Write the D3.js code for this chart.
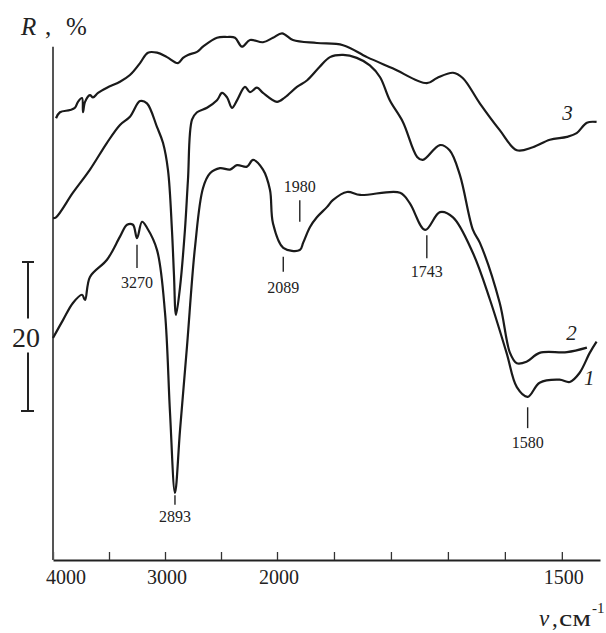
<!DOCTYPE html>
<html><head><meta charset="utf-8">
<script src="https://cdn.jsdelivr.net/npm/d3@7"></script>
<style>body{margin:0;background:#fff}svg{display:block}</style>
</head><body>
<svg id="c" width="606" height="633"></svg>
<script>
// Spectrum 1 (bottom), [wavenumber cm^-1, R %]
const curve1 = [[4000,29.8],[3911,32.2],[3822,34.5],[3741,35.6],[3714,34.9],[3670,38.0],[3518,40.3],[3402,43.4],[3339,45.0],[3286,45.0],[3250,43.2],[3205,45.4],[3161,44.6],[3071,41.6],[3000,33.2],[2955,19.7],[2911,9.0],[2866,17.4],[2804,28.6],[2732,42.0],[2661,49.9],[2598,51.9],[2509,52.6],[2420,52.4],[2357,53.0],[2268,52.8],[2214,53.7],[2125,52.4],[2063,49.7],[2036,45.2],[1989,41.9],[1960,41.6],[1954,42.6],[1942,44.7],[1930,46.0],[1912,47.4],[1902,48.3],[1877,49.4],[1854,49.0],[1784,49.3],[1767,47.9],[1740,44.3],[1714,46.7],[1691,46.0],[1656,41.2],[1626,34.9],[1597,27.8],[1579,23.2],[1560,21.9],[1539,23.8],[1504,24.2],[1486,23.9],[1469,25.1],[1451,27.8],[1439,29.3]];
// Spectrum 2 (middle)
const curve2 = [[4000,45.9],[3973,46.0],[3822,49.3],[3670,52.4],[3518,56.0],[3402,58.4],[3313,59.5],[3223,61.6],[3161,61.3],[3071,58.1],[3018,56.0],[2973,52.3],[2938,44.3],[2920,38.3],[2902,32.9],[2866,36.6],[2822,44.3],[2795,51.0],[2759,59.1],[2714,60.1],[2625,60.7],[2536,61.7],[2491,62.7],[2446,62.1],[2402,60.7],[2357,61.7],[2286,63.5],[2241,62.8],[2179,63.4],[2125,62.7],[2000,61.5],[1986,62.1],[1965,63.5],[1947,64.4],[1925,66.2],[1907,67.5],[1884,67.8],[1860,67.4],[1837,66.4],[1819,64.8],[1802,61.7],[1779,58.8],[1754,54.1],[1744,53.7],[1714,55.7],[1697,55.0],[1679,51.7],[1656,44.3],[1644,42.6],[1609,34.5],[1591,27.8],[1579,26.4],[1562,26.6],[1539,27.8],[1491,27.9],[1456,28.5]];
// Spectrum 3 (top)
const curve3 = [[3973,59.3],[3938,60.1],[3848,60.4],[3804,60.7],[3777,61.5],[3741,62.0],[3732,60.1],[3714,61.5],[3670,62.4],[3643,62.1],[3598,62.7],[3518,63.4],[3402,64.2],[3313,65.1],[3223,66.7],[3152,68.1],[3071,68.1],[2982,67.5],[2884,66.7],[2839,67.4],[2795,67.8],[2714,68.2],[2661,68.9],[2536,70.1],[2446,70.2],[2375,70.1],[2313,68.9],[2241,69.8],[2125,69.5],[2036,70.1],[1991,70.7],[1972,69.8],[1930,69.4],[1884,69.1],[1842,67.5],[1797,66.0],[1737,64.0],[1719,64.7],[1691,65.4],[1674,64.7],[1644,61.3],[1609,57.7],[1579,55.0],[1551,55.4],[1521,56.4],[1491,56.8],[1474,57.3],[1456,58.7],[1439,58.8]];

const xTicks = [4000,3500,3000,2500,2000,1900,1800,1700,1600,1500];
const xTickLabels = [4000,3000,2000,1500];
const peakLabels = ["3270","2893","2089","1980","1743","1580"];
const peakNu = [3250,2911,1989,1960,1737,1560];
const peakTickR = [[42.3,39.2],[8.7,7.4],[40.7,38.7],[48.3,45.4],[43.6,40.5],[20.5,17.7]];
const peakTextR = [36.5,5.1,35.8,49.4,38.0,15.0];
const curveNames = ["1","2","3"];
const curveNameNu = [1452,1483,1490];
const curveNameR = [23.5,29.5,59.1];
const scaleBar = [20,40];
const scaleBarLabel = "20";
const yAxisTop = 68.9;

const FONT = '"Liberation Serif","Times New Roman",serif';
const svg = d3.select("#c");
const x = d3.scaleLinear().domain([4000,2000,1433]).range([53,277,600]);
const y = d3.scaleLinear().domain([0,75]).range([560,1.25]);

// x axis
const gx = svg.append("g").attr("transform",`translate(0,${y(0)})`)
  .call(d3.axisBottom(x).tickValues(xTicks).tickSize(-8).tickSizeOuter(0).tickFormat(""));
gx.select(".domain").attr("stroke","#222").attr("stroke-width",2);
gx.selectAll(".tick line").attr("stroke","#333").attr("stroke-width",1.3);

svg.selectAll("text.xl").data(xTickLabels).join("text")
  .attr("class","xl")
  .attr("x",(d,i)=> i===0 ? x(d)-7 : x(d)+2)
  .attr("y",y(0)+24)
  .attr("text-anchor",(d,i)=> i===0 ? "start":"middle")
  .attr("font-family",FONT).attr("font-size",20).attr("fill","#222")
  .text(d=>d);

// y axis line
svg.append("line").attr("x1",x(4000)).attr("x2",x(4000))
  .attr("y1",y(0)).attr("y2",y(yAxisTop))
  .attr("stroke","#555").attr("stroke-width",2);

// curves
const line = d3.line().x(d=>x(d[0])).y(d=>y(d[1])).curve(d3.curveCatmullRom.alpha(0.5));
svg.selectAll("path.sp").data([curve1,curve2,curve3]).join("path")
  .attr("class","sp").attr("d",line)
  .attr("fill","none").attr("stroke","#1a1a1a").attr("stroke-width",2.2)
  .attr("stroke-linejoin","round");

// peak markers
svg.selectAll("line.pk").data(peakNu).join("line")
  .attr("class","pk")
  .attr("x1",d=>x(d)).attr("x2",d=>x(d))
  .attr("y1",(d,i)=>y(peakTickR[i][0])).attr("y2",(d,i)=>y(peakTickR[i][1]))
  .attr("stroke","#222").attr("stroke-width",1.4);
svg.selectAll("text.pk").data(peakLabels).join("text")
  .attr("class","pk")
  .attr("x",(d,i)=>x(peakNu[i])).attr("y",(d,i)=>y(peakTextR[i]))
  .attr("text-anchor","middle")
  .attr("font-family",FONT).attr("font-size",16).attr("fill","#222")
  .text(d=>d);

// curve numbers
svg.selectAll("text.cn").data(curveNames).join("text")
  .attr("class","cn")
  .attr("x",(d,i)=>x(curveNameNu[i])).attr("y",(d,i)=>y(curveNameR[i]))
  .attr("text-anchor","middle")
  .attr("font-family",FONT).attr("font-style","italic").attr("font-size",21).attr("fill","#222")
  .text(d=>d);

// scale bar
const bx = 28;
const bTop = y(scaleBar[1]), bBot = y(scaleBar[0]);
const bMid = (bTop+bBot)/2;
const sb = svg.append("g").attr("stroke","#222").attr("stroke-width",2);
sb.append("line").attr("x1",bx).attr("x2",bx).attr("y1",bTop).attr("y2",bMid-18);
sb.append("line").attr("x1",bx).attr("x2",bx).attr("y1",bMid+16).attr("y2",bBot);
sb.append("line").attr("x1",bx-6).attr("x2",bx+6).attr("y1",bTop).attr("y2",bTop);
sb.append("line").attr("x1",bx-7).attr("x2",bx+6).attr("y1",bBot).attr("y2",bBot);
svg.append("text").attr("x",bx-2).attr("y",bMid+10).attr("text-anchor","middle")
  .attr("font-family",FONT).attr("font-size",28).attr("fill","#222").text(scaleBarLabel);

// y title
const yt = svg.append("g").attr("font-family",FONT).attr("font-size",25).attr("fill","#222");
yt.append("text").attr("x",21).attr("y",35).attr("font-style","italic").text("R");
yt.append("text").attr("x",45).attr("y",35).text(",");
yt.append("text").attr("x",66).attr("y",35).text("%");

// x title
const xt = svg.append("g").attr("font-family",FONT).attr("fill","#222");
xt.append("text").attr("x",539).attr("y",626).attr("font-size",23).attr("font-style","italic").text("ν");
xt.append("text").attr("x",552).attr("y",626).attr("font-size",23).text(",");
xt.append("text").attr("x",559).attr("y",626).attr("font-size",24)
  .attr("textLength",32).attr("lengthAdjust","spacingAndGlyphs").text("см");
xt.append("text").attr("x",592).attr("y",613).attr("font-size",15).text("-1");
</script>
</body></html>
